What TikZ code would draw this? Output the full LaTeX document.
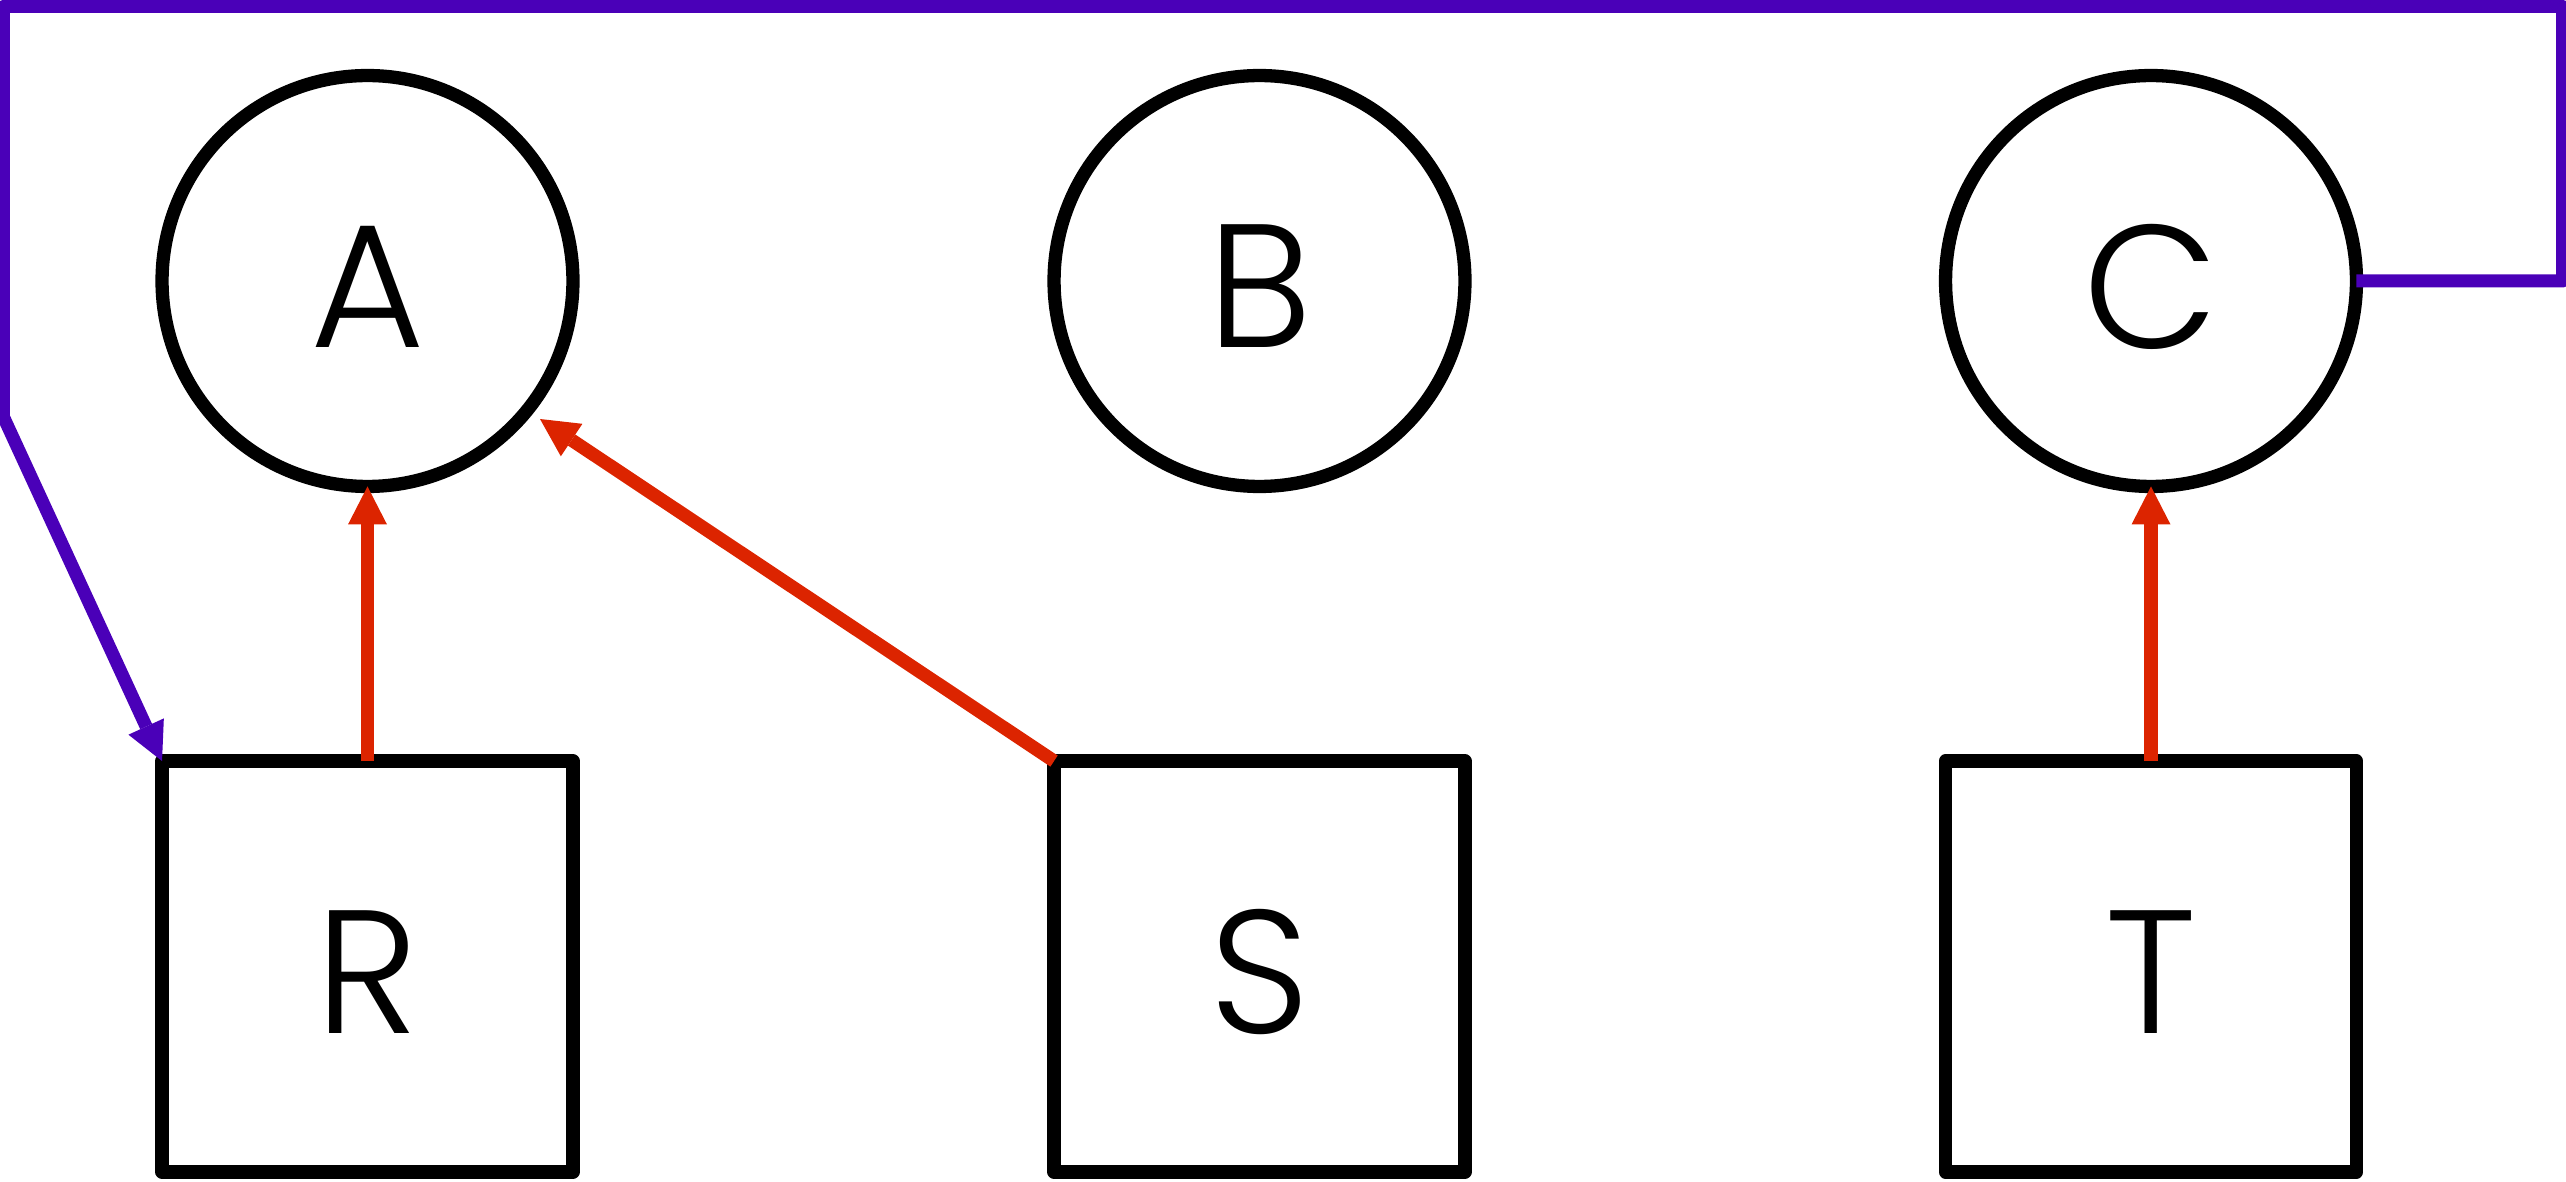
\documentclass[tikz,border=0pt]{standalone}
\usepackage{fontspec}
\setmainfont{Poppins}[UprightFont=* Light]
\usetikzlibrary{arrows.meta,calc}
\definecolor{purp}{RGB}{74,0,184}
\definecolor{redc}{RGB}{220,36,0}
\begin{document}
\begin{tikzpicture}[x=0.02cm,y=-0.02cm,
  every node/.style={outer sep=0pt,inner sep=0pt},
  circnode/.style={circle,draw=black,line width=0.266cm,minimum size=8.22cm},
  boxnode/.style={rectangle,draw=black,line width=0.266cm,line join=round,minimum size=8.22cm},
  lbl/.style={font=\fontsize{100}{120}\selectfont,yshift=-3.13pt},
  tiphead/.style={-{Triangle[length=0.76cm,width=0.78cm,line width=0pt]}},
  redarrow/.style={draw=redc,line width=0.266cm,tiphead},
  purparrow/.style={draw=purp,line width=0.26cm,line join=round,tiphead}]
\useasboundingbox (0,0) rectangle (2566,1182);
% top row
\node[circnode,label={[lbl,name=Al]center:A}] (A) at (367.5,281) {};
\node[circnode,label={[lbl,name=Bl]center:B}] (B) at (1259.5,281) {};
\node[circnode,label={[lbl,name=Cl]center:C}] (C) at (2151,281) {};
% bottom row
\node[boxnode,label={[lbl,name=Rl]center:R}] (R) at (367.5,966.5) {};
\node[boxnode,label={[lbl,name=Sl]center:S}] (S) at (1259.5,966.5) {};
\node[boxnode,label={[lbl,name=Tl]center:T}] (T) at (2151,966.5) {};
% red connectors
\coordinate (Ahit) at ($(A.center)+(172.5,138)$);
\draw[redarrow] (R.north) -- (A.south);
\draw[redarrow] (T.north) -- (C.south);
\draw[redarrow] (S.north west) -- (Ahit);
% purple connector
\coordinate (p1) at (2562.5,281);
\coordinate (p2) at (2562.5,6.5);
\coordinate (p3) at (3.5,6.5);
\coordinate (p4) at (3.5,417);
\draw[purparrow] (C.east) -- (p1) -- (p2) -- (p3) -- (p4) -- (R.north west);
\end{tikzpicture}
\end{document}
